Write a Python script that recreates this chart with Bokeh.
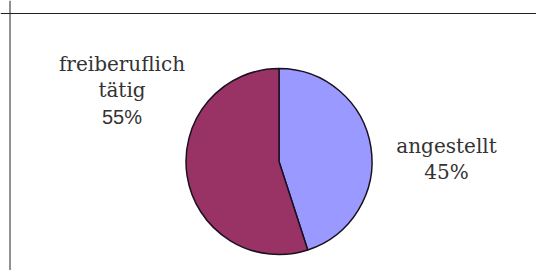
import math
from bokeh.plotting import figure
from bokeh.models import Span, ColumnDataSource
from bokeh.embed import file_html
from bokeh.resources import INLINE

# Data
categories = ["angestellt", "freiberuflich tätig"]
shares = [45, 55]
colors = ["#9999FF", "#993366"]

W, H = 536, 270
p = figure(width=W, height=H, output_backend="svg", toolbar_location=None,
           x_range=(0, W), y_range=(0, H), min_border=0)
p.axis.visible = False
p.grid.visible = False
p.outline_line_color = None
p.background_fill_color = "white"
p.border_fill_color = "white"

# cropped frame like the reference
p.add_layout(Span(location=H - 13, dimension="width", line_color="#222222", line_width=1))
p.add_layout(Span(location=9.5, dimension="height", line_color="#222222", line_width=1))

# wedges, clockwise from 12 o'clock
total = sum(shares)
starts, ends = [], []
acc = 0.0
for s in shares:
    a0 = math.pi / 2 - 2 * math.pi * acc / total
    acc += s
    a1 = math.pi / 2 - 2 * math.pi * acc / total
    starts.append(a0)
    ends.append(a1)

cx, cy, r = 278.5, H - 161, 93
src = ColumnDataSource(dict(start=starts, end=ends, color=colors))
p.wedge(x=cx, y=cy, radius=r, start_angle="start", end_angle="end",
        direction="clock", fill_color="color", line_color="#1a1020", line_width=1.5,
        source=src)

# labels
label_pos = [(446, H - 145), (121.5, H - 63)]
line_gap = 26.5
xs, ys, texts, fonts = [], [], [], []
for cat, sh, (lx, ly) in zip(categories, shares, label_pos):
    lines = cat.split(" ") + [f"{sh}%"]
    for i, t in enumerate(lines):
        xs.append(lx)
        ys.append(ly - i * line_gap)
        texts.append(t)
        if t.endswith("%") and sh == 55:
            fonts.append("Liberation Sans")
        else:
            fonts.append("DejaVu Serif")
lsrc = ColumnDataSource(dict(x=xs, y=ys, text=texts, font=fonts))
p.text(x="x", y="y", text="text", text_align="center", text_baseline="alphabetic",
       text_font="font", text_font_size="20px", text_color="#333333", source=lsrc)

open("out.html", "w").write(file_html(p, INLINE))
